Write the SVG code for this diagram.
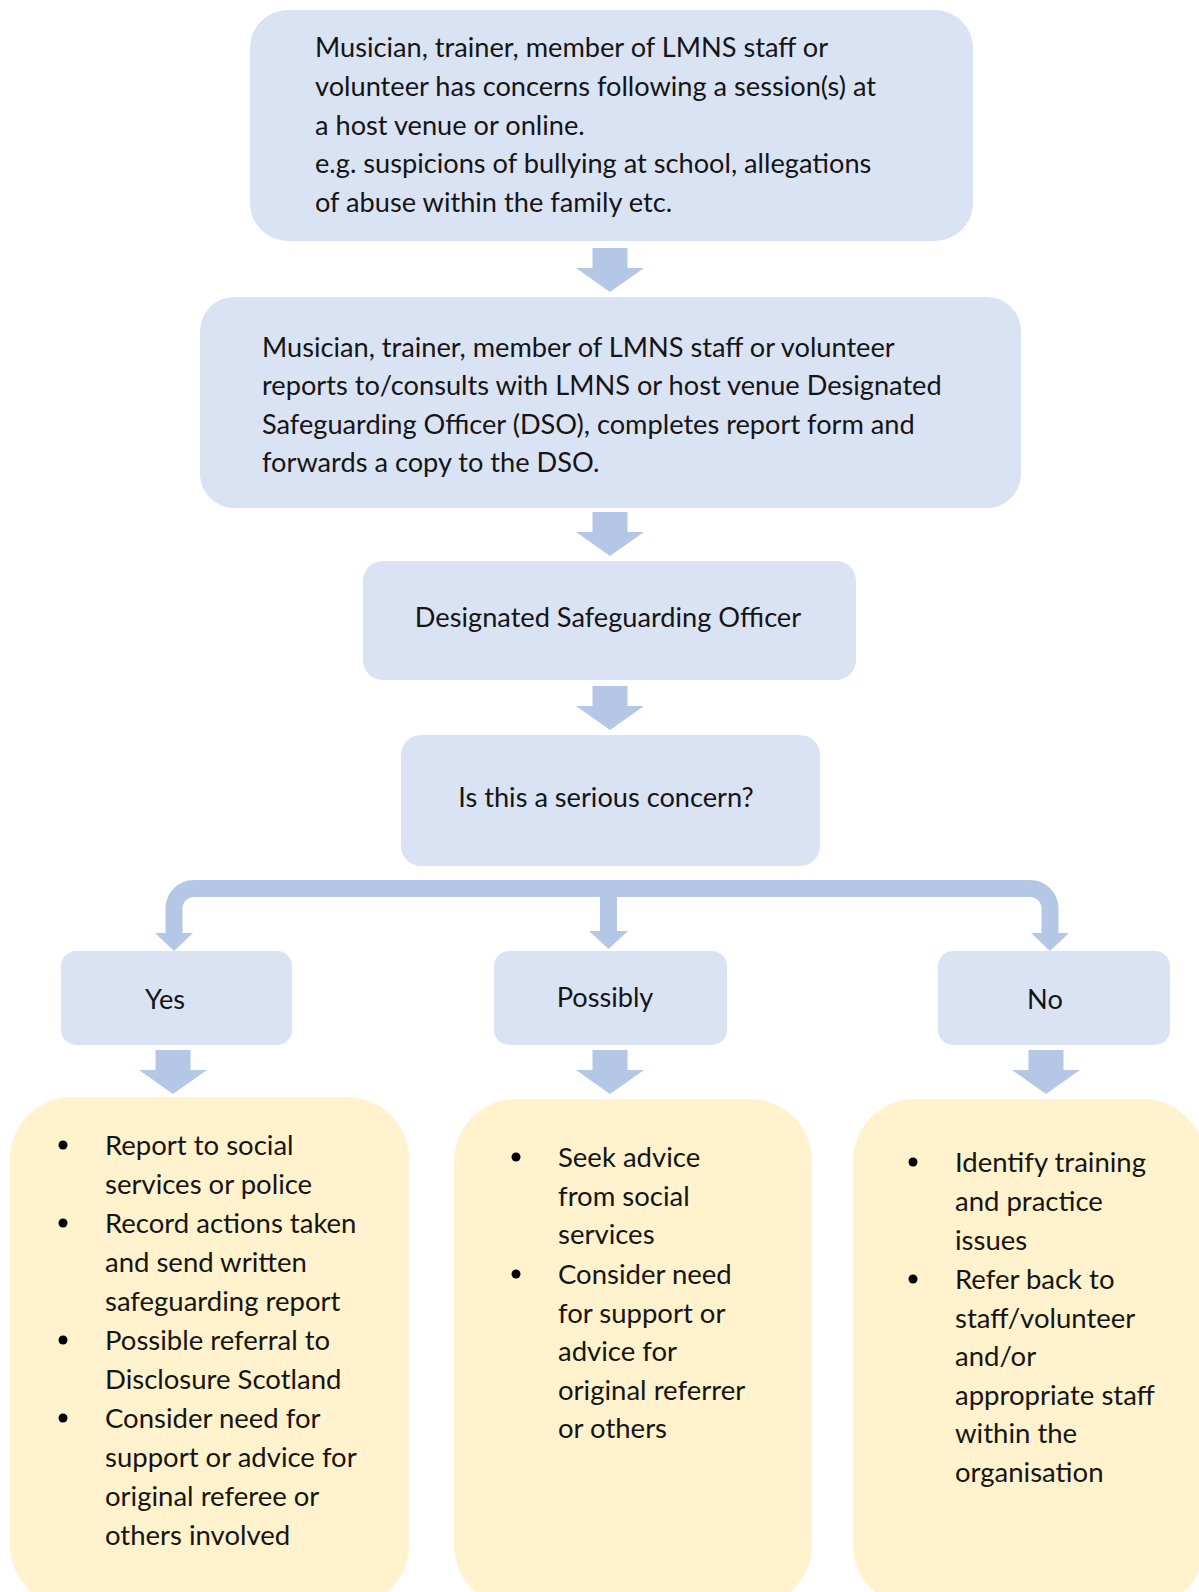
<svg xmlns="http://www.w3.org/2000/svg" width="1199" height="1592" viewBox="0 0 1199 1592">
  <defs>
    <style>
      .step { fill: #DAE3F3; }
      .action { fill: #FFF2CC; }
      .arrow { fill: #B4C7E7; }
      .branch { fill: none; stroke: #B4C7E7; stroke-width: 17; }
      text { font-family: Lato, "Open Sans", "Liberation Sans", sans-serif; font-size: 27.2px; fill: #151515; }
      .list text { font-size: 27.5px; }
      .mid { text-anchor: middle; }
      .dot { fill: #000; }
    </style>
    <!-- down arrow, tip at origin -->
    <polygon id="down" points="-17.5,-44 17.5,-44 17.5,-24 34,-24 0,0 -34,-24 -17.5,-24"/>
  </defs>

  <g id="concern">
    <rect class="step" x="250" y="10" width="723" height="231" rx="38"/>
    <text x="315" y="57">Musician, trainer, member of LMNS staff or</text>
    <text x="315" y="96">volunteer has concerns following a session(s) at</text>
    <text x="315" y="135">a host venue or online.</text>
    <text x="315" y="173">e.g. suspicions of bullying at school, allegations</text>
    <text x="315" y="212">of abuse within the family etc.</text>
  </g>

  <g id="report">
    <rect class="step" x="200" y="297" width="821" height="211" rx="34"/>
    <text x="262" y="357">Musician, trainer, member of LMNS staff or volunteer</text>
    <text x="262" y="395">reports to/consults with LMNS or host venue Designated</text>
    <text x="262" y="434">Safeguarding Officer (DSO), completes report form and</text>
    <text x="262" y="472">forwards a copy to the DSO.</text>
  </g>

  <g id="dso">
    <rect class="step" x="363" y="561" width="493" height="119" rx="20"/>
    <text class="mid" x="608" y="627">Designated Safeguarding Officer</text>
  </g>

  <g id="decision">
    <rect class="step" x="401" y="735" width="419" height="131" rx="20"/>
    <text class="mid" x="606" y="807">Is this a serious concern?</text>
  </g>

  <g id="yes">
    <rect class="step" x="61" y="951" width="231" height="94" rx="15"/>
    <text class="mid" x="165" y="1009">Yes</text>
  </g>

  <g id="possibly">
    <rect class="step" x="494" y="951" width="233" height="94" rx="15"/>
    <text class="mid" x="605" y="1007">Possibly</text>
  </g>

  <g id="no">
    <rect class="step" x="938" y="951" width="232" height="94" rx="15"/>
    <text class="mid" x="1045" y="1009">No</text>
  </g>

  <g id="yes-actions" class="list">
    <rect class="action" x="10" y="1097" width="399" height="510" rx="62"/>
    <circle class="dot" cx="63" cy="1145" r="4.5"/>
    <circle class="dot" cx="63" cy="1223" r="4.5"/>
    <circle class="dot" cx="63" cy="1340" r="4.5"/>
    <circle class="dot" cx="63" cy="1418" r="4.5"/>
    <text x="105" y="1155">Report to social</text>
    <text x="105" y="1194">services or police</text>
    <text x="105" y="1233">Record actions taken</text>
    <text x="105" y="1272">and send written</text>
    <text x="105" y="1311">safeguarding report</text>
    <text x="105" y="1350">Possible referral to</text>
    <text x="105" y="1389">Disclosure Scotland</text>
    <text x="105" y="1428">Consider need for</text>
    <text x="105" y="1467">support or advice for</text>
    <text x="105" y="1506">original referee or</text>
    <text x="105" y="1545">others involved</text>
  </g>

  <g id="possibly-actions" class="list">
    <rect class="action" x="454" y="1099" width="358" height="508" rx="62"/>
    <circle class="dot" cx="516" cy="1157" r="4.5"/>
    <circle class="dot" cx="516" cy="1274" r="4.5"/>
    <text x="558" y="1167">Seek advice</text>
    <text x="558" y="1206">from social</text>
    <text x="558" y="1244">services</text>
    <text x="558" y="1284">Consider need</text>
    <text x="558" y="1323">for support or</text>
    <text x="558" y="1361">advice for</text>
    <text x="558" y="1400">original referrer</text>
    <text x="558" y="1438">or others</text>
  </g>

  <g id="no-actions" class="list">
    <rect class="action" x="853" y="1099" width="352" height="508" rx="62"/>
    <circle class="dot" cx="913" cy="1162" r="4.5"/>
    <circle class="dot" cx="913" cy="1279" r="4.5"/>
    <text x="955" y="1172">Identify training</text>
    <text x="955" y="1211">and practice</text>
    <text x="955" y="1250">issues</text>
    <text x="955" y="1289">Refer back to</text>
    <text x="955" y="1328">staff/volunteer</text>
    <text x="955" y="1366">and/or</text>
    <text x="955" y="1405">appropriate staff</text>
    <text x="955" y="1443">within the</text>
    <text x="955" y="1482">organisation</text>
  </g>

  <g id="connectors">
    <use href="#down" class="arrow" x="610" y="292"/>
    <use href="#down" class="arrow" x="610" y="556"/>
    <use href="#down" class="arrow" x="610" y="730"/>
    <!-- three-way branch from the decision -->
    <path class="branch" d="M174,935 V908.5 A20,20 0 0 1 194,888.5 H1030 A20,20 0 0 1 1050,908.5 V935"/>
    <path class="branch" d="M608.5,880 V933"/>
    <polygon class="arrow" points="155,933 193,933 174,951"/>
    <polygon class="arrow" points="589,931 628,931 608.5,949"/>
    <polygon class="arrow" points="1031,933 1069,933 1050,951"/>
    <use href="#down" class="arrow" x="173" y="1094"/>
    <use href="#down" class="arrow" x="610" y="1094"/>
    <use href="#down" class="arrow" x="1046" y="1094"/>
  </g>
</svg>
